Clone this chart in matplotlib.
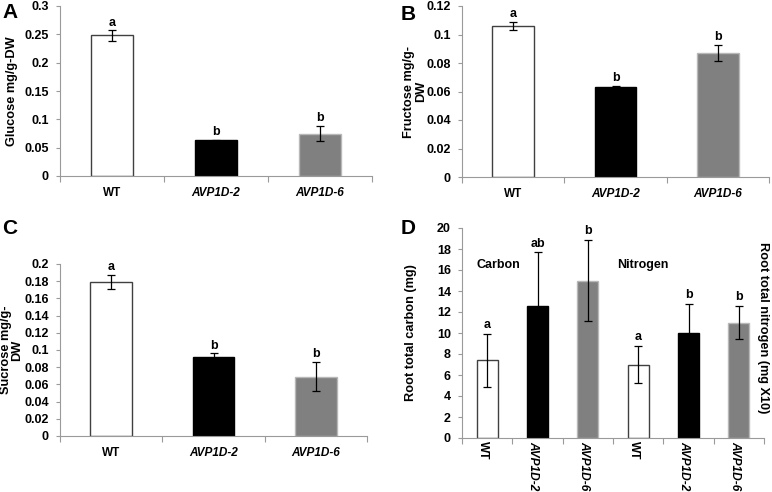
import matplotlib
matplotlib.use("Agg")
import matplotlib.pyplot as plt
import numpy as np

plt.rcParams['font.family'] = ['Liberation Sans', 'DejaVu Sans']

genotypes = ["WT", "AVP1D-2", "AVP1D-6"]

glucose = [0.248, 0.063, 0.075]
glucose_err = [0.009, 0.001, 0.013]
glucose_sig = ["a", "b", "b"]

fructose = [0.106, 0.063, 0.087]
fructose_err = [0.003, 0.001, 0.0055]
fructose_sig = ["a", "b", "b"]

sucrose = [0.179, 0.092, 0.069]
sucrose_err = [0.008, 0.004, 0.017]
sucrose_sig = ["a", "b", "b"]

root_labels = ["WT", "AVP1D-2", "AVP1D-6", "WT", "AVP1D-2", "AVP1D-6"]
root_vals = [7.4, 12.6, 15.0, 7.0, 10.0, 11.0]
root_err = [2.5, 5.1, 3.9, 1.8, 2.8, 1.6]
root_sig = ["a", "ab", "b", "a", "b", "b"]

face = ["white", "black", "#808080"]
edge = ["#404040", "black", "#b8b8b8"]

fig = plt.figure(figsize=(7.72, 4.92), dpi=100)
W, H = 772, 492

TICK_FS = 9
LAB_FS = 9.2

def add_ax(l, r, t, b):
    return fig.add_axes([l / W, 1 - b / H, (r - l) / W, (b - t) / H])

def style(ax, ymax, step, fmt):
    for s in ["top", "right"]:
        ax.spines[s].set_visible(False)
    for s in ["left", "bottom"]:
        ax.spines[s].set_color("#9a9a9a")
        ax.spines[s].set_linewidth(0.8)
    ax.set_ylim(0, ymax)
    ticks = np.arange(0, ymax + step / 2, step)
    ax.set_yticks(ticks)
    ax.set_yticklabels([fmt(v) for v in ticks], fontsize=TICK_FS, fontweight="bold")
    ax.tick_params(axis="y", length=3, color="#9a9a9a", pad=5)

def fmt_g(v):
    s = ("%.3f" % v).rstrip("0").rstrip(".")
    return s if s else "0"

def sugar_panel(ax, vals, errs, sig, ymax, step, ylabel, label_x, off):
    n = len(vals)
    x = np.arange(n)
    for i in range(n):
        ax.bar(x[i], vals[i], width=0.41, color=face[i], edgecolor=edge[i], linewidth=1.0, zorder=2)
        ax.errorbar(x[i], vals[i], yerr=errs[i], color="black", capsize=3, elinewidth=0.9, capthick=0.9, zorder=3)
        ax.text(x[i], vals[i] + errs[i] + off, sig[i], ha="center", va="bottom", fontsize=TICK_FS, fontweight="bold")
    style(ax, ymax, step, fmt_g)
    ax.set_xlim(-0.5, n - 0.5)
    ax.set_xticks(np.arange(-0.5, n, 1.0))
    ax.set_xticklabels([])
    ax.tick_params(axis="x", length=4, color="#9a9a9a", direction="out")
    for i, g in enumerate(genotypes):
        ax.text(i, -0.065, g, transform=ax.get_xaxis_transform(), ha="center", va="top",
                fontsize=8.5, fontweight="bold", style=("normal" if g == "WT" else "italic"))
    ax.set_ylabel(ylabel, fontsize=LAB_FS, fontweight="bold", linespacing=0.95, va="center")
    ax.yaxis.set_label_coords(label_x, 0.5)

axA = add_ax(60, 372, 6, 176)
sugar_panel(axA, glucose, glucose_err, glucose_sig, 0.3, 0.05, "Glucose mg/g-DW", -0.155, 0.003)
axB = add_ax(462, 769, 6, 177)
sugar_panel(axB, fructose, fructose_err, fructose_sig, 0.12, 0.02, "Fructose mg/g-\nDW", -0.153, 0.0012)
axC = add_ax(60, 367, 264, 436)
sugar_panel(axC, sucrose, sucrose_err, sucrose_sig, 0.2, 0.02, "Sucrose mg/g-\nDW", -0.158, 0.002)

axD = add_ax(462, 764, 228, 438)
xD = np.arange(len(root_vals))
for i in range(len(root_vals)):
    k = i % 3
    axD.bar(xD[i], root_vals[i], width=0.42, color=face[k], edgecolor=edge[k], linewidth=1.0, zorder=2)
    axD.errorbar(xD[i], root_vals[i], yerr=root_err[i], color="black", capsize=3, elinewidth=0.9, capthick=0.9, zorder=3)
    axD.text(xD[i], root_vals[i] + root_err[i] + 0.25, root_sig[i], ha="center", va="bottom", fontsize=TICK_FS, fontweight="bold")
style(axD, 20, 2, lambda v: "%d" % v)
axD.set_xlim(-0.5, len(root_vals) - 0.5)
axD.set_xticks(np.arange(-0.5, len(root_vals), 1.0))
axD.set_xticklabels([])
axD.tick_params(axis="x", length=4, color="#9a9a9a", direction="out")
for i, g in enumerate(root_labels):
    axD.text(i - 0.08, -0.012, g, transform=axD.get_xaxis_transform(), ha="center", va="top", rotation=270,
             fontsize=8.6, fontweight="bold", style=("normal" if g == "WT" else "italic"))
axD.set_ylabel("Root total carbon (mg)", fontsize=LAB_FS, fontweight="bold", va="center")
axD.yaxis.set_label_coords(-0.169, 0.5)
axD.text(0.22, 16.5, "Carbon", ha="center", va="center", fontsize=9, fontweight="bold")
axD.text(3.1, 16.5, "Nitrogen", ha="center", va="center", fontsize=9, fontweight="bold")
fig.text(763 / W, 1 - 328 / H, "Root total nitrogen (mg X10)", rotation=270, ha="center", va="center",
         fontsize=LAB_FS, fontweight="bold")

for letter, (px, py) in {"A": (2, 13), "B": (401, 14), "C": (2, 229), "D": (401, 229)}.items():
    fig.text(px / W, 1 - py / H, letter, ha="left", va="center", fontsize=15, fontweight="bold")

fig.savefig("out.png", dpi=100)
